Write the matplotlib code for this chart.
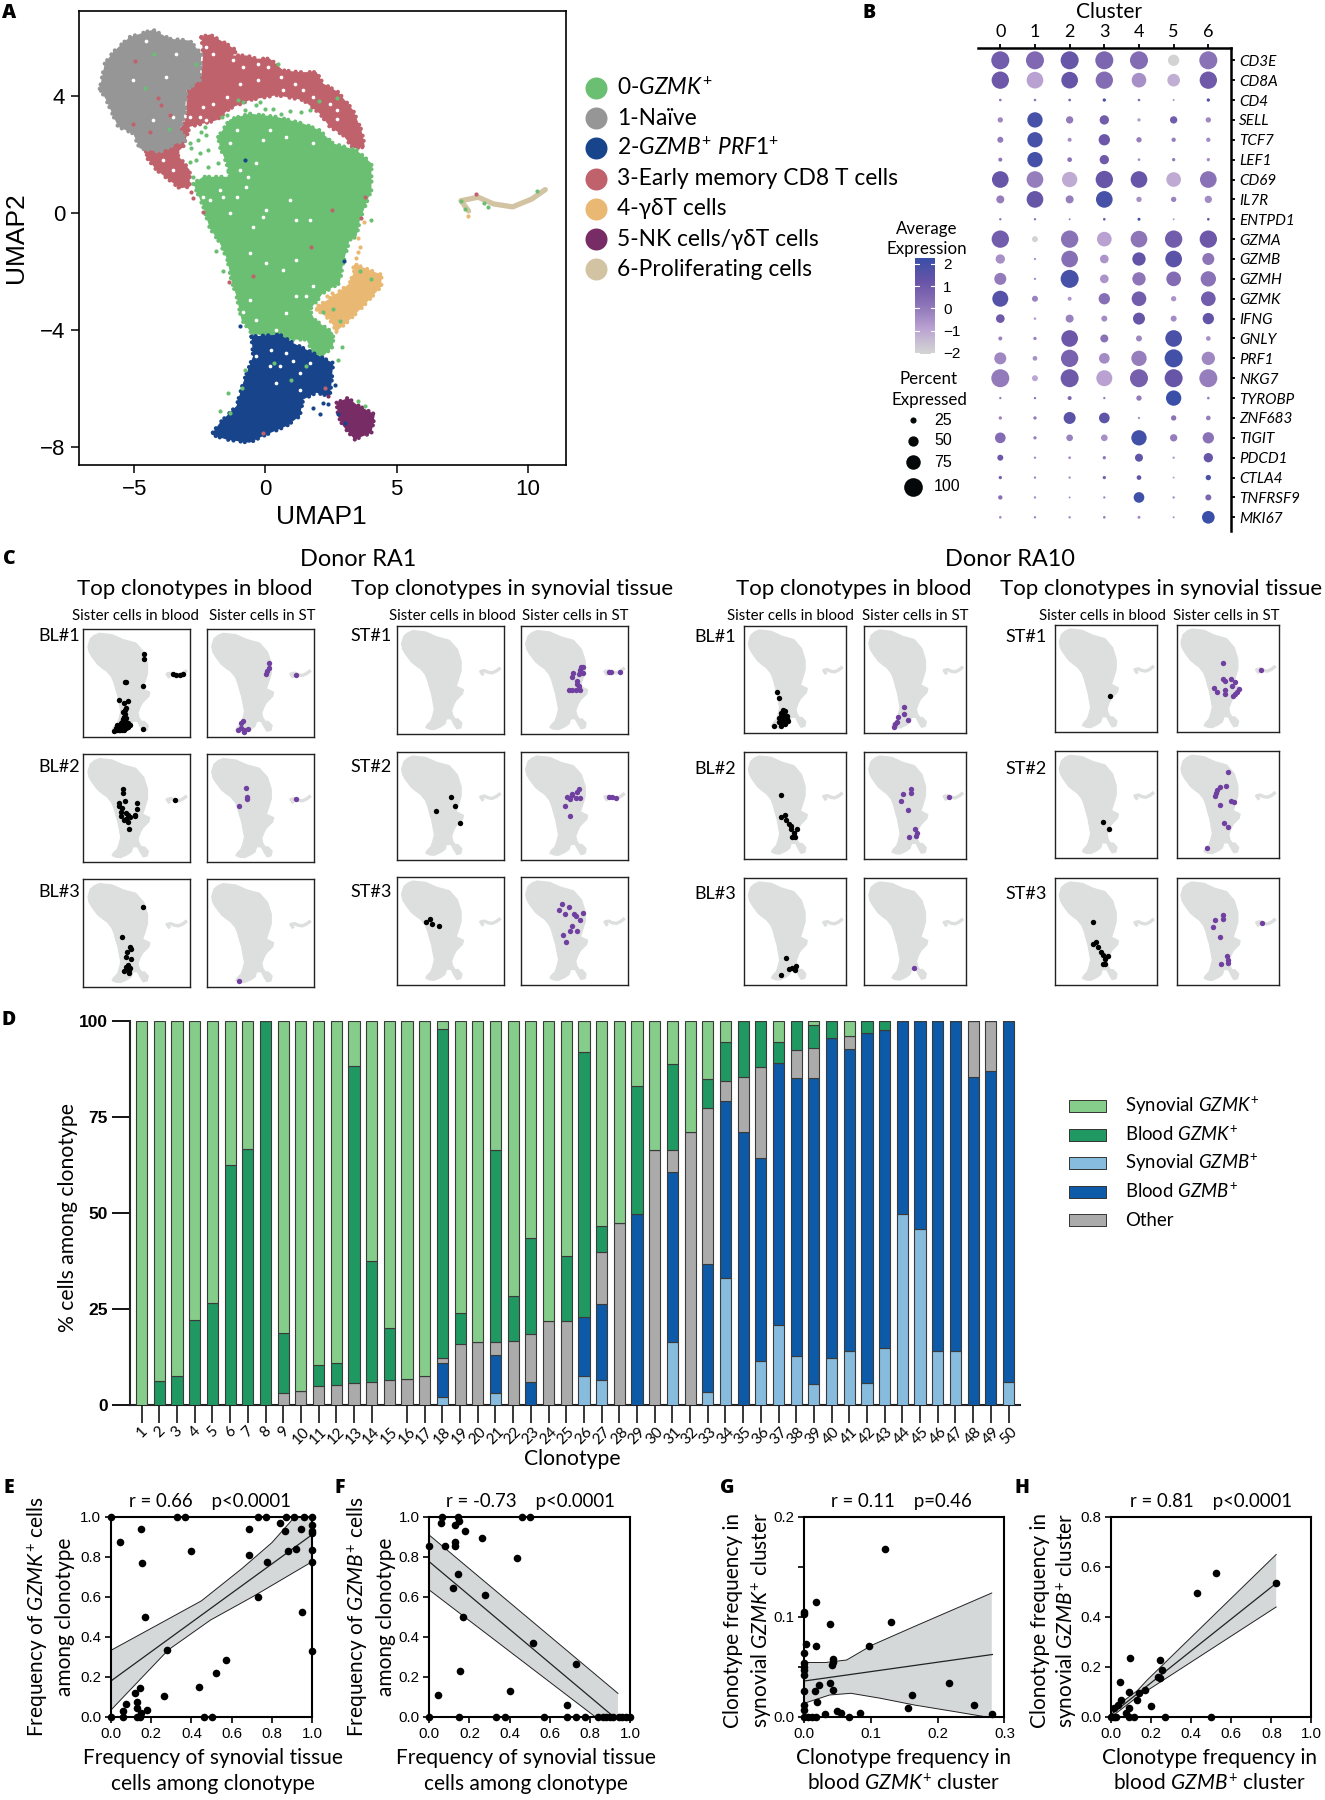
import matplotlib
matplotlib.use("Agg")
import matplotlib.pyplot as plt
from matplotlib import font_manager as fm
from matplotlib.colors import LinearSegmentedColormap
import numpy as np

W, H = 1325, 1800
SANS = ['Lato', 'DejaVu Sans']
plt.rcParams['font.family'] = SANS
plt.rcParams['mathtext.fontset'] = 'custom'
plt.rcParams['mathtext.rm'] = 'Lato'
plt.rcParams['mathtext.it'] = 'Lato:italic'
plt.rcParams['mathtext.bf'] = 'Lato:bold'
try:
    fm.findfont('Liberation Sans Narrow', fallback_to_default=False)
    NARROW, NARROW_SIZE = 'Liberation Sans Narrow', 12.5
except Exception:
    NARROW, NARROW_SIZE = 'Liberation Sans', 10.8
HELV = 'Liberation Sans'

# ---------- Panel A data: cluster outlines and stray cells read in UMAP units
GREEN_OUT = [(-1.8,2.6),(-1.36,3.2),(-.6,3.4),(.42,3.29),(1.44,3.06),(2.07,2.83),(2.58,2.38),(3.47,2.15),(4.04,1.7),(4.04,.79),(3.6,-.24),(3.47,-.81),(3.21,-.92),(2.96,-1.72),(2.83,-2.4),(2.2,-2.74),(1.69,-3.31),(1.88,-3.65),(2.58,-4.1),(2.58,-4.56),(2.2,-4.9),(1.82,-4.79),(1.56,-4.33),(.8,-4.33),(.04,-4.22),(-.53,-4.11),(-.91,-3.65),(-1.1,-2.85),(-1.3,-2.29),(-1.45,-1.6),(-1.75,-1.0),(-2.12,-.52),(-2.37,.22),(-2.75,1.01),(-2.37,1.24),(-1.36,1.24),(-1.48,1.7),(-1.74,2.27)]
GRAY_OUT = [(-6.31,4.25),(-6.12,5.11),(-5.8,5.51),(-5.17,6.02),(-4.28,6.27),(-3.64,5.96),(-2.88,5.9),(-2.44,5.45),(-2.5,4.54),(-3.0,4.2),(-3.07,3.4),(-3.26,2.83),(-3.0,2.49),(-3.39,2.38),(-4.02,2.09),(-4.79,2.21),(-5.04,2.72),(-5.61,2.95),(-6.06,3.86)]
RED_OUT = [(-2.44,6.02),(-2.12,6.11),(-1.48,5.79),(-1.1,5.56),(-1.23,5.39),(-.72,5.39),(-.34,5.28),(.17,5.28),(.68,4.88),(1.31,4.82),(1.95,4.82),(2.2,4.43),(2.77,4.14),(3.34,3.52),(3.66,2.83),(3.79,2.26),(3.34,2.21),(2.96,2.66),(2.45,2.95),(2.07,3.4),(1.44,3.86),(.42,4.03),(-.6,3.86),(-1.36,3.57),(-1.86,3.17),(-2.88,2.95),(-3.13,2.26),(-3.39,2.04),(-2.88,1.47),(-2.88,.9),(-3.26,.84),(-4.15,1.47),(-4.6,1.98),(-4.47,2.32),(-3.64,2.49),(-3.0,3.17),(-3.0,4.2),(-2.44,4.65),(-2.37,5.45)]
BLUE_OUT = [(-.53,-4.22),(.55,-4.16),(1.06,-4.45),(2.07,-4.9),(2.58,-5.13),(2.52,-5.81),(2.45,-6.27),(1.94,-6.15),(1.44,-6.38),(1.31,-6.95),(.8,-7.29),(-.09,-7.63),(-.6,-7.86),(-1.48,-7.75),(-2.06,-7.58),(-1.74,-7.18),(-1.1,-6.6),(-.85,-5.81),(-.47,-4.9)]
ORANGE_OUT = [(3.47,-1.77),(4.42,-2.11),(4.42,-2.51),(3.72,-3.2),(3.09,-3.76),(2.71,-4.05),(2.45,-3.65),(1.88,-3.25),(2.58,-2.85),(3.21,-2.4)]
PURPLE_OUT = [(2.71,-6.49),(3.15,-6.32),(3.47,-6.55),(4.17,-6.89),(4.04,-7.52),(3.4,-7.75),(2.96,-7.29),(2.77,-6.95)]
TAN_TRACK = [(7.74,.07),(7.45,.42),(8.1,.54),(8.69,.31),(9.42,.21),(10.15,.48),(10.66,.8)]
# outer hull of the whole embedding, used for the grey background of panel C
SILHOUETTE = [(-4.3,6.3),(-2.1,6.1),(-.2,5.4),(2.0,4.9),(3.4,3.6),(4.05,1.9),(4.05,.5),(3.6,-.7),(3.2,-1.7),(4.46,-2.2),(4.3,-2.8),(3.2,-3.7),(2.8,-4.3),(2.4,-5.2),(2.6,-5.9),(3.0,-6.4),(3.5,-6.4),(4.2,-7.0),(4.0,-7.7),(3.3,-7.85),(2.8,-7.2),(2.3,-6.4),(1.5,-6.4),(1.25,-7.1),(.6,-7.5),(-.6,-7.95),(-1.4,-7.9),(-2.1,-7.65),(-1.9,-7.3),(-1.2,-6.7),(-.9,-6),(-.6,-5),(-.9,-3.7),(-1.1,-2.8),(-1.4,-2),(-1.8,-.8),(-2.2,-.0),(-3,.8),(-3.7,1.2),(-4.6,1.8),(-5.6,2.9),(-6.1,3.6),(-6.3,4.4),(-5.9,5.5),(-5.2,6.0)]

GREEN_STRAY = [(-2.44,2.78),(-2.31,2.95),(-2.56,2.49),(-2.25,2.66),(-2.18,2.15),(-2.5,2.04),(-2.88,2.38),(-2.88,1.75),(-2.63,1.81),(-2.18,1.58),(-1.8,1.7),(-1.42,1.47),(-2.75,1.24),(-1.04,3.86),(-.85,3.8),(-.21,3.8),(.29,3.57),(.61,3.4),(.93,3.5),(1.37,3.46),(1.69,3.52),(-.02,3.57),(-.34,3.69),(-.79,3.52),(-1.67,3.29),(-1.48,3.35),(.48,5.09),(2.71,3.94),(2.03,3.82),(-2.63,5.11),(-4.24,5.43),(-4.6,4.28),(-3.68,2.87),(-2.82,2.21),(4.04,-.24),(-1.89,-1.3),(-1.61,-1.97),(-1.42,-6.15),(-1.74,-6.78),(-1.36,-6.84),(-.91,-5.98),(-.79,-5.38),(2.9,-4.58),(2.77,-5.02),(3.79,-6.6),(3.53,-6.44),(4.04,-2.26),(3.6,-2.0),(.31,-5.12),(.96,-5.71),(1.55,-5.24),(7.45,.4),(7.59,.15),(8.32,.33),(8.47,.19),(10.36,.75),(2.86,-3.7),(2.58,-3.3),(2.2,-3.4)]
BLUE_STRAY = [(-.95,-3.88),(-.79,1.83),(1.82,-6.67),(2.07,-6.86),(2.2,-6.49),(2.39,-6.52),(2.64,-5.87),(2.77,-6.89),(3.02,-7.18),(3.0,-1.64)]
RED_STRAY = [(-4.95,5.19),(-4.09,3.95),(-3.96,3.69),(-5.04,3.03),(2.52,.1),(3.79,.56),(3.66,-.18),(-2.37,.05),(-2.82,.73),(-2.75,.5),(-4.38,2.78),(-3.64,3.35),(-.49,-2.14),(-1.4,-2.36),(-.09,-7.54),(1.72,-1.15),(2.26,-5.98),(8.03,.66)]
ORANGE_STRAY = [(3.75,-.32),(3.53,-.86),(3.34,-1.83),(3.47,-1.55),(3.53,-1.32),(3.6,-1.15),(2.33,-2.85),(2.52,-2.74),(7.7,-.11)]
PURPLE_STRAY = [(2.39,-6.25)]
GAPS = [(-2.12,.44),(-1.61,.56),(-1.1,.56),(-1.36,-.01),(-.72,.9),(-.09,-.12),(-.47,-.47),(.04,.1),(1.18,-.24),(1.69,-.24),(-.98,1.47),(.93,.44),(-.66,1.24),(-1.74,.79),(-2.37,.56),(-.34,1.7),(-.09,2.49),(.8,2.6),(1.82,2.38),(-1.36,2.38),(-1.1,2.83),(.17,2.83),(-.6,-1.38),(-.6,-2.97),(-.34,-3.65),(-.85,-3.37),(.42,-4.0),(1.18,-2.85),(1.56,-2.85),(.8,-3.42),(1.18,-1.6),(.67,-1.94),(.04,-1.72),(1.82,-2.51),
        (.23,-4.67),(.8,-4.79),(.55,-5.24),(1.31,-5.47),(1.31,-6.04),(-.34,-4.9),(.17,-5.24),(1.69,-5.13),(1.06,-5.07),(.42,-5.81),
        (-.28,5.11),(-.28,4.54),(.1,4.99),(.61,4.65),(1.13,4.42),(.68,4.2),(1.44,4.2),(1.82,3.97),(2.45,3.74),(2.71,3.2),(-2.37,3.63),(-2,3.74),(-1.48,3.97),(-.98,4.42),(-3.51,1.47),(-3.9,1.81),(-2.25,5.68),(-2,5.45),(-1.23,5.22),(-.85,4.99),(-2.5,3.29),(-2.25,3.17),(-2.88,3.29),(2.71,3.52),
        (-3.39,5.45),(-3.77,4.65),(-4.28,3.17),(-3.51,3.29),(-5.04,4.54),(-4.53,5.9)]

CLUSTER_NAMES = ['0-$\\mathit{GZMK}^{+}$', '1-Naïve', '2-$\\mathit{GZMB}^{+}$ $\\mathit{PRF1}^{+}$', '3-Early memory CD8 T cells', '4-γδT cells', '5-NK cells/γδT cells', '6-Proliferating cells']
CLUSTER_COLORS = ['#6BBF72', '#969696', '#17448A', '#C0626B', '#E9B872', '#772C66', '#D2C4A2']

# ---------- Panel B data
GENES = ['CD3E','CD8A','CD4','SELL','TCF7','LEF1','CD69','IL7R','ENTPD1','GZMA','GZMB','GZMH','GZMK','IFNG','GNLY','PRF1','NKG7','TYROBP','ZNF683','TIGIT','PDCD1','CTLA4','TNFRSF9','MKI67']
PCT = [[96,96,96,96,96,56,96],[92,88,88,92,76,64,92],[4,4,4,8,4,0,8],[20,80,32,44,8,32,20],[24,80,12,56,20,14,14],[12,80,16,44,4,8,8],[88,88,80,92,88,76,88],[36,88,36,88,20,20,32],[2,2,0,4,6,0,4],[92,24,92,76,88,92,92],[44,2,88,40,68,88,60],[60,2,96,40,68,76,80],[84,24,12,56,76,20,76],[40,4,36,24,60,24,56],[12,8,88,36,24,88,16],[60,16,92,52,80,96,68],[96,24,96,84,96,96,96],[2,2,12,2,20,80,4],[8,8,60,52,2,20,16],[52,8,28,28,80,32,56],[24,2,4,8,36,2,44],[8,2,2,8,16,0,20],[14,2,0,2,52,2,24],[4,2,2,4,6,0,64]]
EXPR = [[.9,.5,1.2,.6,.4,-2,.2],[1.1,-.9,1.2,.4,-.5,-1.2,1.0],[0,0,.8,1.8,.3,-.6,1.6],[-.3,1.9,0,.9,-.8,.9,-.3],[0,1.9,-.4,1.1,-.1,-.1,-.4],[.1,1.95,.2,1.0,-.4,0,-.4],[1.2,-.1,-1.1,1.2,1.2,-1.1,.2],[-.1,1.2,-.1,1.9,-.5,-.2,-.4],[.2,.2,-.2,.9,2,-.8,1.2],[.9,-2,.2,-.9,.1,.9,1.1],[-.5,-.6,.3,-.6,1.3,1.5,.1],[0,-.5,1.9,-.6,.1,.4,.2],[1.6,-.2,-.7,.3,.9,-.6,.9],[1.0,-.9,-.2,-.4,1.2,-.4,1.3],[-.2,-.2,1.1,.2,-.3,1.8,-.5],[-.3,-.5,.7,-.4,-.1,2.0,-.3],[0,-1,1.0,-.9,.8,1.2,-.1],[0,.2,.6,0,0,2.2,-.1],[-.2,0,1.5,1.4,-.5,.2,-.1],[.4,-.2,-.2,-.5,2,-.1,.2],[1.1,-.4,-.3,0,1.4,-.7,1.2],[.8,-.2,-.4,.7,1.4,-.9,1.8],[.3,-.3,-.5,-.3,2.1,-.3,.6],[-.4,-.2,-.2,-.2,-.4,-.5,2.2]]
PCT_LEGEND = [25, 50, 75, 100]

# ---------- Panel C data (UMAP units)
RA1_BL1_B = [(3.41,3.3),(3.41,2.53),(.2,-.69),(.3,-.75),(3.19,-1.36),(-.9,-3.34),(.71,-3.43),(-.02,-3.82),(.35,-4.54),(-.24,-5.02),(.1,-5.3),(-.02,-5.74),(.3,-5.9),(-.38,-6.46),(.35,-6.7),(-.1,-6.4),(-.75,-6.94),(-.3,-6.9),(-1.48,-7.42),(-1.0,-7.3),(-.5,-7.3),(-.02,-7.42),(.35,-7.42),(.7,-7.2),(1.08,-6.94),(-1.84,-7.81),(-.75,-7.66),(-1.3,-7.6),(-.3,-7.6),(3.27,-7.47),(8.52,.42),(8.96,.27),(9.69,.27),(10.2,.42),(-.2,-6.0),(.15,-6.2),(-.5,-6.7),(.1,-7.0),(.6,-6.6),(-1.2,-7.0),(-.9,-7.6),(-.1,-7.7),(.1,-4.8)]
RA1_BL1_S = [(3.7,2.0),(3.7,1.23),(3.34,.9),(3.12,.42),(8.3,.32),(-.9,-6.37),(-1.19,-6.6),(-1.77,-7.66),(-1.26,-7.42),(-.68,-7.66),(.05,-7.57),(-.68,-7.9)]
RA1_BL2_B = [(-.16,1.86),(-.24,1.28),(.05,.22),(-.9,-.16),(-.9,-.5),(-.31,-.88),(2.24,-.16),(2.24,-.98),(1.95,-1.84),(-.53,-1.36),(-.6,-1.99),(.35,-1.6),(.71,-1.84),(1.08,-2.08),(.35,-2.33),(.71,-2.81),(-.02,-2.57),(1.81,-1.99),(.86,-3.86),(8.89,.32)]
RA1_BL2_S = [(-.31,2.05),(-.16,.8),(-.09,.42),(-1.48,-.59),(8.3,.42)]
RA1_BL3_B = [(3.34,2.97),(-.31,-1.41),(.93,-2.81),(1.22,-3.05),(.49,-3.53),(.27,-4.3),(1.15,-4.59),(.71,-5.45),(.35,-5.69),(.93,-5.79),(-.02,-6.22),(.86,-6.17),(.86,-6.56)]
RA1_BL3_S = [(-1.62,-7.71)]
RA1_ST1_B = []
RA1_ST1_S = [(3.27,1.09),(3.63,1.09),(3.12,.61),(3.63,.22),(2.97,.03),(1.95,.22),(1.81,-.45),(2.54,-.93),(2.68,-1.32),(2.9,-1.7),(1.22,-2.18),(1.81,-2.18),(2.39,-2.18),(3.05,-2.18),(8.23,.27),(8.52,.37),(10.06,.32)]
RA1_ST2_B = [(2.24,.42),(-.31,-1.65),(2.97,-.93),(3.78,-3.29)]
RA1_ST2_S = [(2.97,1.62),(2.54,1.14),(1.81,.9),(1.66,.66),(.93,.42),(1.44,.18),(2.39,.32),(3.05,.3),(.49,-.85),(1.37,-2.35),(8.23,.42),(8.74,.37),(9.33,.2)]
RA1_ST3_B = [(-1.41,.85),(-2.06,.42),(-.97,.13),(.13,-.16)]
RA1_ST3_S = [(.05,2.97),(-.46,2.1),(1.15,2.58),(.57,1.62),(2.17,1.62),(2.39,1.28),(3.63,1.71),(3.12,.66),(1.81,-.16),(2.54,-.88),(1.44,-.93),(.13,-1.41),(.71,-2.47)]
RA10_BL1_B = [(-.99,-2.78),(-.76,-3.65),(-1.69,-7.65),(.01,-5.28),(-.37,-5.77),(.4,-5.52),(-.76,-6.49),(.01,-6.25),(.78,-6.25),(-.76,-7.12),(.01,-7.2),(.94,-6.97),(-.37,-7.6),(.4,-7.31),(.4,-6.8),(-.3,-6.7),(.7,-6.6),(0,-5.8),(.3,-6),(-.4,-6.2),(.05,-6.7),(-.3,-7.2)]
RA10_BL1_S = [(.09,-4.95),(.17,-5.86),(-.92,-6.35),(.86,-6.78),(-1.07,-7.12),(-1.46,-7.36),(-1.69,-7.79)]
RA10_BL2_B = [(-.3,.6),(-.37,-2.59),(.32,-2.3),(.63,-2.97),(1.02,-3.55),(1.4,-3.84),(1.56,-4.32),(2.49,-4.32),(2.02,-4.9),(1.71,-5.53),(2.18,-5.53)]
RA10_BL2_S = [(1.33,1.56),(1.4,.88),(-.07,.79),(-.45,-.18),(.86,-1.62),(8.36,.35),(2.1,-4.32),(2.41,-4.9),(2.25,-5.38),(1.02,-5.53)]
RA10_BL3_B = [(.55,-4.75),(-.37,-7.21),(1.17,-6.35),(1.71,-6.2),(2.33,-5.96),(2.18,-6.44)]
RA10_BL3_S = [(2.02,-6.25)]
RA10_ST1_B = [(2.95,-3.45)]
RA10_ST1_S = [(1.25,1.37),(8.21,.31),(1.4,-.99),(1.71,-1.19),(2.87,-.99),(3.57,-1.43),(3.03,-1.96),(-.22,-2.2),(.24,-2.78),(1.79,-2.54),(1.71,-3.12),(4.26,-2.39),(3.88,-2.78),(3.49,-3.12),(3.1,-3.4)]
RA10_ST2_B = [(1.63,-3.36),(2.72,-4.32)]
RA10_ST2_S = [(2.33,3.87),(1.94,1.9),(.78,1.66),(.17,1.27),(.01,.79),(-.14,.4),(2.87,-.32),(3.41,-.51),(.86,-.85),(1.48,-3.55),(2.25,-4.13),(-1.53,-7.16)]
RA10_ST3_B = [(-.22,.55),(-.22,-2.68),(.4,-2.34),(.78,-3.16),(1.33,-3.79),(1.71,-4.27),(2.49,-4.42),(2.1,-4.9),(1.71,-5.57),(2.1,-5.57)]
RA10_ST3_S = [(1.33,1.51),(1.4,.88),(-.07,.74),(-.45,-.22),(.86,-1.62),(8.36,.31),(2.1,-4.37),(2.33,-4.99),(2.18,-5.48),(.94,-5.57)]

# ---------- Panel D data
CLONOTYPES = list(range(1, 51))
SYN_GZMB = [0]*17 + [2,0,0,3,0,0,0,0,7.5,6.4,0,0,0,16.3,0,3.5,33.1,0,11.5,20.8,12.7,5.4,12.2,14,5.6,14.8,49.7,45.9,14,14,0,0,5.9]
BLD_GZMB = [0]*17 + [9,0,0,10,0,6,0,0,15.3,20,0,49.8,0,44.5,0,33.3,46.1,71.2,52.9,68.3,72.4,79.7,83.4,78.6,91.2,82.9,50.3,54.1,86,86,85.4,87.1,94.1]
OTHER = [0]*8 + [3,3.6,5,5.3,5.7,6,6.4,6.7,7.5,1.2,15.8,16.5,3.3,16.7,12.4,21.9,21.9,0,13.4,47.4,0,66.5,5.6,71.2,40.6,5.2,14.2,23.6,0,7.3,7.9,0,3.5,0,0,0,0,0,0,14.6,12.9,0]
BLD_GZMK = [0,6.2,7.5,22.2,26.5,62.5,66.6,100,15.7,0,5.5,5.7,82.6,31.5,13.6,0,0,85.6,8.2,0,50.2,11.8,25.2,0,16.8,69.2,6.8,0,33.3,0,22.3,0,7.6,10.2,14.6,12,5.4,7.6,6,4.4,0,3.2,2.3,0,0,0,0,0,0,0]
SYN_GZMK = [100,93.8,92.5,77.8,73.5,37.5,33.4,0,81.3,96.4,89.5,89,11.7,62.5,80,93.3,92.5,2.2,76,83.5,33.5,71.5,56.4,78.1,61.3,8,53.4,52.6,16.9,33.5,11.3,28.8,15,5.4,0,0,5.5,0,1,0,3.9,0,0,0,0,0,0,0,0,0]
D_ORDER = [SYN_GZMB, BLD_GZMB, OTHER, BLD_GZMK, SYN_GZMK]
D_COLORS = ['#88BCDF', '#0D5AA8', '#ABABAB', '#209862', '#86CC8A']
D_LEGEND = ['Synovial $\\mathit{GZMK}^{+}$', 'Blood $\\mathit{GZMK}^{+}$', 'Synovial $\\mathit{GZMB}^{+}$', 'Blood $\\mathit{GZMB}^{+}$', 'Other']
D_LEGEND_COLORS = ['#86CC8A', '#209862', '#88BCDF', '#0D5AA8', '#ABABAB']

# ---------- Panels E-H data
E_X = [0,.33,.37,.73,.77,.87,.91,.96,1,1,1,1,.945,.84,.866,.685,.147,.046,.153,.4,.685,.778,.883,.918,1,1,.732,.95,.168,.279,1,.57,.52,.436,.264,.143,.117,.13,.075,.13,.059,.178,.149,0,.061,.128,.145,.461,.5]
E_Y = [1,1,1,1,1,1,1,1,1,.96,.93,.92,.94,.967,.93,.937,.94,.875,.769,.83,.81,.775,.827,.837,.832,.775,.6,.522,.5,.333,.331,.285,.221,.151,.103,.143,.118,.073,.067,.043,.032,.033,.022,0,0,0,0,0,0]
E_LINE = ([0,1],[.18,.91])
E_UP = ([0,.25,.45,.65,.8,.915,1],[.333,.47,.58,.74,.87,1,1])
E_LO = ([0,.285,.495,.704,1],[.035,.335,.484,.6,.775])
F_X = [.063,.145,.46,.5,.059,.126,.149,.178,.264,.436,0,.078,.126,.13,.143,.117,.277,.168,.518,.732,.153,.044,.4,.686,0,.147,.33,.376,.57,.686,.732,.778,.84,.866,.88,.9,.915,.945,.96,.98,1]
F_Y = [1,1,1,1,.967,.957,.978,.928,.892,.794,.855,.855,.874,.854,.712,.646,.609,.5,.369,.266,.23,.11,.131,.062,0,0,0,0,0,0,0,0,0,0,0,0,0,0,0,0,0]
F_LINE = ([0,.92],[.775,0])
F_UP = ([0,.94],[.908,.118])
F_LO = ([0,.828,.94],[.634,0,0])
G_X = [.121,.017,0,0,.038,.13,.003,.018,.097,0,.043,.043,.041,0,0,0,0,.038,.022,.2175,.043,.016,0,.1615,.019,.156,.254,0,0,.049,.055,.084,.031,.282,.067,0,.006,.011,.018]
G_Y = [.168,.115,.1055,.103,.0935,.0955,.0735,.071,.071,.0645,.058,.0555,.052,.054,.05,.047,.042,.034,.032,.034,.027,.026,.026,.022,.0147,.009,.012,.012,.007,.006,.004,.004,.003,.003,0,0,0,0,0]
G_LINE = ([0,.282],[.036,.0625])
G_UP = ([0,.032,.0636,.102,.165,.281],[.0545,.0545,.057,.072,.0905,.124])
G_LO = ([0,.038,.07,.1145,.165,.229,.2735,.281],[.0137,.022,.0237,.0187,.012,.005,0,0])
H_X = [.824,.521,.428,.095,.2415,.252,.235,.2415,.042,.167,.087,.14,.129,.049,.034,.197,.091,.013,.076,.267,.5,.114,.087,.013,0,.023]
H_Y = [.536,.576,.498,.235,.228,.188,.162,.155,.14,.108,.1015,.095,.068,.068,.048,.045,.035,.035,.015,0,0,0,0,0,0,0]
H_LINE = ([0,.824],[.01,.535])
H_UP = ([0,.13,.18,.824],[.028,.105,.148,.65])
H_LO = ([0,.13,.824],[0,.08,.44])

fig = plt.figure(figsize=(W/100, H/100), dpi=100)
fig.patch.set_facecolor('white')

def pxax(x0, y0, x1, y1, **kw):
    return fig.add_axes([x0/W, 1-y1/H, (x1-x0)/W, (y1-y0)/H], **kw)

def T(x, y, s, **kw):
    kw.setdefault('ha', 'center')
    kw.setdefault('va', 'center')
    return fig.text(x/W, 1-y/H, s, **kw)

def xs(pts): return [p[0] for p in pts]
def ys(pts): return [p[1] for p in pts]

# Panel letters
for s, x, y in [('A',9,13),('B',869,13),('C',9,559),('D',9,1020),('E',9,1488),('F',340,1488),('G',727,1488),('H',1022,1488)]:
    T(x, y, s, fontsize=14, fontweight='black', family=['Open Sans','DejaVu Sans'])

# ---------------- A
UX = (-7.1, 11.45)
UY = (-8.62, 6.91)
ax = pxax(79, 11, 566, 465)
ax.set_xlim(*UX); ax.set_ylim(*UY)
for sp in ax.spines.values(): sp.set_linewidth(1.2)
dash = (0, (0.02, 1.0, 0.02, 1.7, 0.02, 1.25, 0.02, 2.1))
for pts, col in [(RED_OUT, CLUSTER_COLORS[3]), (GRAY_OUT, CLUSTER_COLORS[1]), (GREEN_OUT, CLUSTER_COLORS[0]),
                 (BLUE_OUT, CLUSTER_COLORS[2]), (ORANGE_OUT, CLUSTER_COLORS[4]), (PURPLE_OUT, CLUSTER_COLORS[5])]:
    ax.fill(xs(pts), ys(pts), facecolor=col, edgecolor=col, lw=3.0, ls=dash, capstyle='round', zorder=2)
ax.plot(xs(TAN_TRACK), ys(TAN_TRACK), color=CLUSTER_COLORS[6], lw=3.8, solid_capstyle='round', solid_joinstyle='round', zorder=2)
ax.scatter(xs(GAPS), ys(GAPS), s=7, color='white', lw=0, zorder=3)
for pts, col in [(GREEN_STRAY, CLUSTER_COLORS[0]), (BLUE_STRAY, CLUSTER_COLORS[2]), (RED_STRAY, CLUSTER_COLORS[3]),
                 (ORANGE_STRAY, CLUSTER_COLORS[4]), (PURPLE_STRAY, CLUSTER_COLORS[5])]:
    ax.scatter(xs(pts), ys(pts), s=9, color=col, lw=0, zorder=4)
ax.set_xticks([-5,0,5,10]); ax.set_yticks([-8,-4,0,4])
ax.set_xticklabels(['−5','0','5','10'], family=HELV, fontsize=16)
ax.set_yticklabels(['−8','−4','0','4'], family=HELV, fontsize=16)
ax.tick_params(length=6, width=1.1, pad=4)
T(321, 517, 'UMAP1', family=HELV, fontsize=19)
T(16, 238, 'UMAP2', family=HELV, fontsize=19, rotation=90)

ov = fig.add_axes([0,0,1,1], facecolor='none')
ov.set_xlim(0, W); ov.set_ylim(H, 0); ov.axis('off'); ov.set_zorder(5)
for i, (nm, col) in enumerate(zip(CLUSTER_NAMES, CLUSTER_COLORS)):
    y = 88 + i*30.2
    ov.scatter([596], [y], s=(22*.72)**2, color=col, lw=0)
    T(617, y, nm, ha='left', fontsize=16.4)

# ---------------- B
cmap = LinearSegmentedColormap.from_list('dot', [(0,'#D3D3D3'),(.25,'#BBA3D3'),(.5,'#8D75B8'),(.75,'#6A55A8'),(1,'#3A4FA8')])
ax = pxax(978, 48.3, 1231, 531)
STEPX, STEPY = 34.67, 19.87
ax.set_xlim((978-1000.3)/STEPX, (1231-1000.3)/STEPX)
ax.set_ylim((531-60.3)/STEPY, (48.3-60.3)/STEPY)
for g, (prow, erow) in enumerate(zip(PCT, EXPR)):
    d = (6 + .5*np.array(prow))/3*.72
    ax.scatter(range(7), [g]*7, s=d**2, c=erow, cmap=cmap, vmin=-2, vmax=2.2, lw=0, zorder=3)
for k in ['left','bottom']: ax.spines[k].set_visible(False)
for k in ['top','right']: ax.spines[k].set_linewidth(1.8)
ax.xaxis.tick_top(); ax.yaxis.tick_right()
ax.set_xticks(range(7)); ax.set_xticklabels(range(7), fontsize=13)
ax.set_yticks(range(24)); ax.set_yticklabels(GENES, fontsize=11, style='italic')
ax.tick_params(axis='both', length=3, width=1.3, pad=3)
T(1109, 12, 'Cluster', fontsize=15)
T(927, 229, 'Average', fontsize=12.2); T(927, 249, 'Expression', fontsize=12.2)
cax = pxax(915, 258, 934.7, 354.5)
grad = np.linspace(2.26, -2.07, 200).reshape(-1, 1)
cax.imshow(grad, aspect='auto', cmap=cmap, vmin=-2, vmax=2.2, extent=[0, 1, -2.07, 2.26])
for sp in cax.spines.values(): sp.set_visible(False)
cax.set_xticks([]); cax.set_yticks([-2,-1,0,1,2])
cax.yaxis.tick_right()
cax.set_yticklabels(['−2','−1','0','1','2'], family=HELV, fontsize=11)
cax.tick_params(axis='y', length=0, pad=6)
for v in [-2,-1,0,1,2]:
    cax.plot([0,.2],[v,v],color='white',lw=.8); cax.plot([.8,1],[v,v],color='white',lw=.8)
cax.set_xlim(0,1); cax.set_ylim(-2.07,2.26)
T(929, 379, 'Percent', fontsize=12.2); T(929, 400, 'Expressed', fontsize=12.2)
for p, y in zip(PCT_LEGEND, [420.3,440.7,462.4,486.9]):
    ov.scatter([912.7],[y], s=((6+.5*p)/3*.72)**2, color='#050808', lw=0)
    T(934, y, str(p), ha='left', fontsize=11.5, family=HELV)

# ---------------- C
def small(x0, y0, x1, y1, pts, color):
    a = pxax(x0, y0, x1, y1)
    a.set_xlim(*UX); a.set_ylim(*UY); a.set_xticks([]); a.set_yticks([])
    for sp in a.spines.values():
        sp.set_linewidth(1.0); sp.set_color('#222222')
    a.fill(xs(SILHOUETTE), ys(SILHOUETTE), facecolor='#DDDEDE', edgecolor='#DDDEDE', lw=.8, zorder=2)
    a.plot(xs(TAN_TRACK), ys(TAN_TRACK), color='#DDDEDE', lw=2.4, zorder=2)
    if pts:
        a.scatter(xs(pts), ys(pts), s=15, color=color, lw=0, zorder=4)

PURPLE_DOT = '#7040A0'
RA1_X = [(83.3,190.2),(207,314),(396.9,503.8),(521,628)]
RA1_BL_Y = [(629,736.7),(754.3,862.3),(879.3,987.3)]
RA1_ST_Y = [(626.3,734.3),(751.7,860),(876.7,985)]
RA10_X = [(744,845.7),(864.4,966.2),(1054.8,1157),(1176.5,1278.7)]
RA10_BL_Y = [(625.7,732.7),(751.7,858.7),(877.7,984.7)]
RA10_ST_Y = [(624.7,732.3),(751,858.3),(877.7,985)]
GROUPS = [
 (RA1_X, RA1_BL_Y, RA1_ST_Y, [[RA1_BL1_B,RA1_BL1_S],[RA1_BL2_B,RA1_BL2_S],[RA1_BL3_B,RA1_BL3_S]], [[RA1_ST1_B,RA1_ST1_S],[RA1_ST2_B,RA1_ST2_S],[RA1_ST3_B,RA1_ST3_S]]),
 (RA10_X, RA10_BL_Y, RA10_ST_Y, [[RA10_BL1_B,RA10_BL1_S],[RA10_BL2_B,RA10_BL2_S],[RA10_BL3_B,RA10_BL3_S]], [[RA10_ST1_B,RA10_ST1_S],[RA10_ST2_B,RA10_ST2_S],[RA10_ST3_B,RA10_ST3_S]]),
]
for X, BY, SY, BD, SD in GROUPS:
    for r in range(3):
        small(X[0][0], BY[r][0], X[0][1], BY[r][1], BD[r][0], 'black')
        small(X[1][0], BY[r][0], X[1][1], BY[r][1], BD[r][1], PURPLE_DOT)
        small(X[2][0], SY[r][0], X[2][1], SY[r][1], SD[r][0], 'black')
        small(X[3][0], SY[r][0], X[3][1], SY[r][1], SD[r][1], PURPLE_DOT)

T(358, 560, 'Donor RA1', fontsize=16.9); T(1010, 560, 'Donor RA10', fontsize=16.9)
for x, s in [(195,'Top clonotypes in blood'),(512,'Top clonotypes in synovial tissue'),(854,'Top clonotypes in blood'),(1161,'Top clonotypes in synovial tissue')]:
    T(x, 589, s, fontsize=16)
for x, s in [(135.5,'Sister cells in blood'),(262,'Sister cells in ST'),(452,'Sister cells in blood'),(575,'Sister cells in ST'),(790,'Sister cells in blood'),(915,'Sister cells in ST'),(1102,'Sister cells in blood'),(1226,'Sister cells in ST')]:
    T(x, 616, s, fontsize=10.8)
for x, pre, ysl in [(38.7,'BL',[636,767,892]),(350.6,'ST',[636,767,892]),(694,'BL',[637,769,894]),(1005,'ST',[637,769,894])]:
    for i, y in enumerate(ysl):
        T(x, y, f'{pre}#{i+1}', ha='left', fontsize=13)

# ---------------- D
ax = pxax(130, 1021, 1020, 1405)
ax.set_xlim(0.34, 50.65); ax.set_ylim(0, 100)
bottom = np.zeros(50)
for vals, col in zip(D_ORDER, D_COLORS):
    ax.bar(CLONOTYPES, vals, width=.63, bottom=bottom, color=col, edgecolor='#3A3A3A', lw=.8, zorder=3)
    bottom += np.array(vals)
for k in ['top','right']: ax.spines[k].set_visible(False)
for k in ['left','bottom']: ax.spines[k].set_linewidth(1.5)
ax.spines['left'].set_color('#222222'); ax.spines['bottom'].set_color('#222222')
ax.set_xticks(CLONOTYPES)
ax.set_xticklabels(CLONOTYPES, rotation=45, ha='center', fontsize=11)
ax.xaxis.get_major_ticks()[14].tick1line.set_visible(False)
ax.tick_params(axis='x', length=13, width=1.1, pad=1)
ax.set_yticks([0,25,50,75,100])
ax.set_yticklabels([0,25,50,75,100], family=HELV, fontweight='bold', fontsize=12.5)
ax.tick_params(axis='y', length=13, width=1.3, pad=3)
T(68, 1217, '% cells among clonotype', rotation=90, fontsize=15.2)
T(572, 1459, 'Clonotype', fontsize=15.2)
for i, (nm, col) in enumerate(zip(D_LEGEND, D_LEGEND_COLORS)):
    y = 1106 + i*28.6
    ov.fill_between([1069,1106],[y-6,y-6],[y+6,y+6], facecolor=col, edgecolor='#333333', lw=.7)
    T(1125, y, nm, ha='left', fontsize=13.4)

# ---------------- E-H
def reg(box, X, Y, LINE, UP, LO, xlim, ylim, xt, yt, ytl, title_x, stat):
    a = pxax(*box)
    a.set_xlim(*xlim); a.set_ylim(*ylim)
    a.fill(list(UP[0])+list(LO[0])[::-1], list(UP[1])+list(LO[1])[::-1], facecolor='#D5D8D8', edgecolor='none', zorder=2)
    a.plot(UP[0], UP[1], color='#222222', lw=.7, zorder=3)
    a.plot(LO[0], LO[1], color='#222222', lw=.7, zorder=3)
    a.plot(LINE[0], LINE[1], color='#222222', lw=.9, zorder=3)
    a.scatter(X, Y, s=30, color='black', lw=0, zorder=5, clip_on=False)
    for sp in a.spines.values(): sp.set_linewidth(1.5); sp.set_zorder(4)
    a.set_xticks(xt); a.set_xticklabels([f'{v:.1f}' for v in xt], family=NARROW, fontsize=NARROW_SIZE)
    a.set_yticks(yt); a.set_yticklabels(ytl, family=NARROW, fontsize=NARROW_SIZE)
    a.tick_params(length=4, width=1.2, pad=3)
    T(title_x, 1502, stat, fontsize=13.4)
    return a

T1 = [0,.2,.4,.6,.8,1]
TL1 = [f'{v:.1f}' for v in T1]
reg((111,1516.7,312,1717), E_X,E_Y,E_LINE,E_UP,E_LO,(0,1),(0,1),T1,T1,TL1,210,'r = 0.66    p<0.0001')
reg((429.3,1516.7,630,1717), F_X,F_Y,F_LINE,F_UP,F_LO,(0,1),(0,1),T1,T1,TL1,530,'r = -0.73    p<0.0001')
reg((804.2,1517,1004.4,1717), G_X,G_Y,G_LINE,G_UP,G_LO,(0,.3),(0,.2),[0,.1,.2,.3],[0,.05,.1,.15,.2],['0.0','','0.1','','0.2'],901,'r = 0.11    p=0.46')
reg((1111.2,1517,1311.4,1717), H_X,H_Y,H_LINE,H_UP,H_LO,(0,1),(0,.8),T1,[0,.2,.4,.6,.8],['0.0','0.2','0.4','0.6','0.8'],1211,'r = 0.81    p<0.0001')

XL = 'Frequency of synovial tissue\ncells among clonotype'
for x, s in [(212.5,XL),(526,XL),(904,'Clonotype frequency in\nblood $\\mathit{GZMK}^{+}$ cluster'),(1210,'Clonotype frequency in\nblood $\\mathit{GZMB}^{+}$ cluster')]:
    l1, l2 = s.split('\n')
    T(x, 1758, l1, fontsize=15); T(x, 1784, l2, fontsize=15)
for x1, x2, y, s1, s2 in [(38,65,1617,'Frequency of $\\mathit{GZMK}^{+}$ cells','among clonotype'),
                          (358,386,1617,'Frequency of $\\mathit{GZMB}^{+}$ cells','among clonotype'),
                          (733,762,1620,'Clonotype frequency in','synovial $\\mathit{GZMK}^{+}$ cluster'),
                          (1040,1067,1620,'Clonotype frequency in','synovial $\\mathit{GZMB}^{+}$ cluster')]:
    T(x1, y, s1, rotation=90, fontsize=15); T(x2, y, s2, rotation=90, fontsize=15)

fig.savefig('out.png', dpi=100, facecolor='white')
